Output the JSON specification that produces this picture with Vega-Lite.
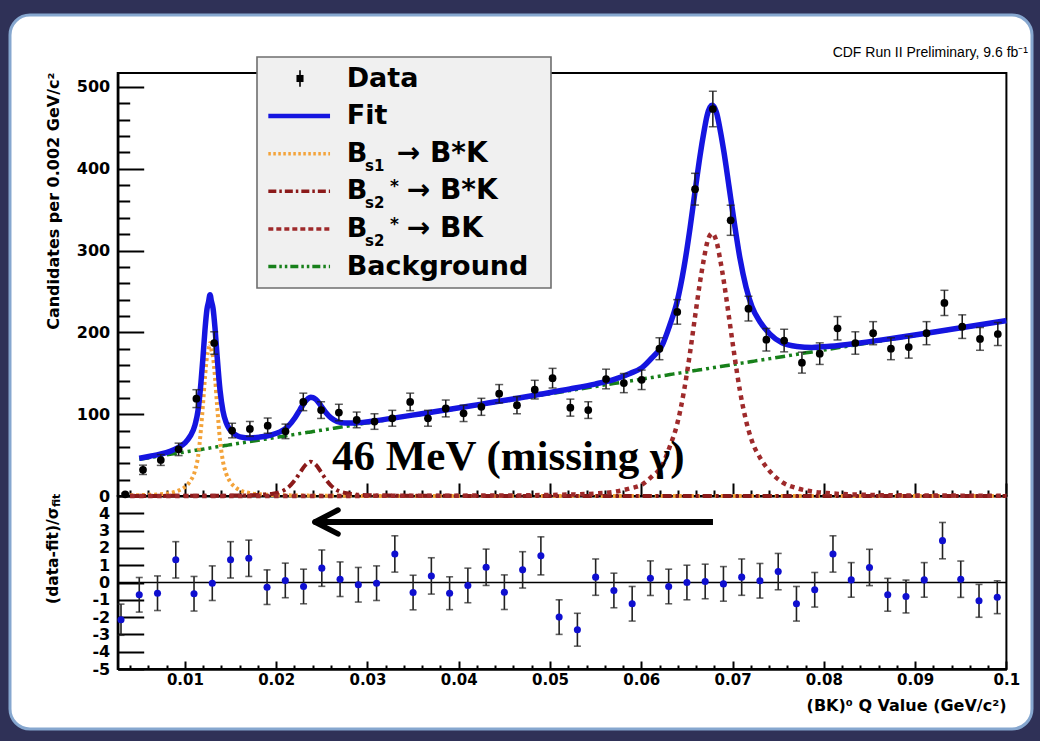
{
  "$schema": "https://vega.github.io/schema/vega-lite/v6.json",
  "width": 1022,
  "height": 714,
  "autosize": {"type": "none"},
  "padding": {"left": 10, "top": 15, "right": 8, "bottom": 12},
  "background": "#2f3157",
  "config": {
    "view": {"fill": "#ffffff", "stroke": "#86a7cf", "strokeWidth": 3, "cornerRadius": 20},
    "axis": {
      "labelFont": "DejaVu Sans", "labelFontWeight": "bold", "labelFontSize": 16, "labelColor": "#000",
      "tickColor": "#000", "domainColor": "#000", "grid": false,
      "labelFlush": false, "labelOverlap": false, "labelBound": false,
      "titleFont": "DejaVu Sans", "titleFontWeight": "bold", "titleColor": "#000"
    }
  },
  "data": {"values": [{}]},
  "datasets": {
    "top": [
      {"x": 0.00346, "n": 2, "e": 1.4},
      {"x": 0.00541, "n": 32, "e": 5.7},
      {"x": 0.00736, "n": 44, "e": 6.6},
      {"x": 0.00931, "n": 57, "e": 7.6},
      {"x": 0.01126, "n": 119, "e": 10.9},
      {"x": 0.01321, "n": 187, "e": 13.7},
      {"x": 0.01517, "n": 80, "e": 8.9},
      {"x": 0.01712, "n": 82, "e": 9.1},
      {"x": 0.01907, "n": 86, "e": 9.3},
      {"x": 0.02102, "n": 79, "e": 8.9},
      {"x": 0.02297, "n": 115, "e": 10.7},
      {"x": 0.02492, "n": 105, "e": 10.2},
      {"x": 0.02687, "n": 102, "e": 10.1},
      {"x": 0.02882, "n": 93, "e": 9.6},
      {"x": 0.03077, "n": 91, "e": 9.5},
      {"x": 0.03272, "n": 95, "e": 9.7},
      {"x": 0.03468, "n": 115, "e": 10.7},
      {"x": 0.03663, "n": 95, "e": 9.7},
      {"x": 0.03858, "n": 107, "e": 10.3},
      {"x": 0.04053, "n": 101, "e": 10.0},
      {"x": 0.04248, "n": 109, "e": 10.4},
      {"x": 0.04443, "n": 125, "e": 11.2},
      {"x": 0.04638, "n": 111, "e": 10.5},
      {"x": 0.04833, "n": 130, "e": 11.4},
      {"x": 0.05028, "n": 144, "e": 12.0},
      {"x": 0.05223, "n": 108, "e": 10.4},
      {"x": 0.05419, "n": 105, "e": 10.2},
      {"x": 0.05614, "n": 143, "e": 12.0},
      {"x": 0.05809, "n": 138, "e": 11.7},
      {"x": 0.06004, "n": 142, "e": 11.9},
      {"x": 0.06199, "n": 180, "e": 13.4},
      {"x": 0.06394, "n": 225, "e": 15.0},
      {"x": 0.06589, "n": 375, "e": 19.4},
      {"x": 0.06784, "n": 473, "e": 21.7},
      {"x": 0.06979, "n": 337, "e": 18.4},
      {"x": 0.07174, "n": 229, "e": 15.1},
      {"x": 0.0737, "n": 191, "e": 13.8},
      {"x": 0.07565, "n": 190, "e": 13.8},
      {"x": 0.0776, "n": 163, "e": 12.8},
      {"x": 0.07955, "n": 174, "e": 13.2},
      {"x": 0.0815, "n": 205, "e": 14.3},
      {"x": 0.08345, "n": 187, "e": 13.7},
      {"x": 0.0854, "n": 199, "e": 14.1},
      {"x": 0.08735, "n": 180, "e": 13.4},
      {"x": 0.0893, "n": 182, "e": 13.5},
      {"x": 0.09125, "n": 199, "e": 14.1},
      {"x": 0.09321, "n": 236, "e": 15.4},
      {"x": 0.09516, "n": 207, "e": 14.4},
      {"x": 0.09711, "n": 192, "e": 13.9},
      {"x": 0.09906, "n": 198, "e": 14.1}
    ],
    "pull": [
      {"x": 0.003, "r": -2.15, "e": 0.9},
      {"x": 0.005, "r": -0.71, "e": 1.0},
      {"x": 0.007, "r": -0.62, "e": 1.0},
      {"x": 0.009, "r": 1.31, "e": 1.05},
      {"x": 0.011, "r": -0.65, "e": 1.0},
      {"x": 0.013, "r": -0.04, "e": 1.0},
      {"x": 0.015, "r": 1.31, "e": 1.05},
      {"x": 0.017, "r": 1.4, "e": 1.05},
      {"x": 0.019, "r": -0.27, "e": 1.0},
      {"x": 0.021, "r": 0.12, "e": 1.0},
      {"x": 0.023, "r": -0.23, "e": 1.0},
      {"x": 0.025, "r": 0.83, "e": 1.05},
      {"x": 0.027, "r": 0.19, "e": 1.0},
      {"x": 0.029, "r": -0.13, "e": 1.0},
      {"x": 0.031, "r": -0.04, "e": 1.0},
      {"x": 0.033, "r": 1.65, "e": 1.05},
      {"x": 0.035, "r": -0.58, "e": 1.0},
      {"x": 0.037, "r": 0.38, "e": 1.05},
      {"x": 0.039, "r": -0.62, "e": 0.95},
      {"x": 0.041, "r": -0.17, "e": 1.0},
      {"x": 0.043, "r": 0.88, "e": 1.05},
      {"x": 0.045, "r": -0.56, "e": 1.0},
      {"x": 0.047, "r": 0.73, "e": 1.05},
      {"x": 0.049, "r": 1.54, "e": 1.1},
      {"x": 0.051, "r": -2.0, "e": 1.0},
      {"x": 0.053, "r": -2.73, "e": 0.95},
      {"x": 0.055, "r": 0.31, "e": 1.05},
      {"x": 0.057, "r": -0.46, "e": 1.0},
      {"x": 0.059, "r": -1.23, "e": 1.0},
      {"x": 0.061, "r": 0.25, "e": 1.0},
      {"x": 0.063, "r": -0.23, "e": 1.0},
      {"x": 0.065, "r": 0.0, "e": 1.0},
      {"x": 0.067, "r": 0.06, "e": 1.0},
      {"x": 0.069, "r": -0.08, "e": 1.0},
      {"x": 0.071, "r": 0.31, "e": 1.05},
      {"x": 0.073, "r": 0.1, "e": 1.0},
      {"x": 0.075, "r": 0.63, "e": 1.05},
      {"x": 0.077, "r": -1.23, "e": 1.0},
      {"x": 0.079, "r": -0.42, "e": 1.0},
      {"x": 0.081, "r": 1.65, "e": 1.05},
      {"x": 0.083, "r": 0.15, "e": 1.0},
      {"x": 0.085, "r": 0.87, "e": 1.05},
      {"x": 0.087, "r": -0.71, "e": 0.95},
      {"x": 0.089, "r": -0.81, "e": 0.95},
      {"x": 0.091, "r": 0.15, "e": 1.0},
      {"x": 0.093, "r": 2.42, "e": 1.05},
      {"x": 0.095, "r": 0.19, "e": 1.05},
      {"x": 0.097, "r": -1.06, "e": 0.95},
      {"x": 0.099, "r": -0.85, "e": 0.95}
    ],
    "curves": [
      {"x": 0.004, "fit": null, "bs1": 0.8, "bsk": 0.1, "bk": 0.0, "bg": null},
      {"x": 0.005, "fit": 46.0, "bs1": 1.0, "bsk": 0.1, "bk": 0.0, "bg": 44.9},
      {"x": 0.00618, "fit": 48.6, "bs1": 1.5, "bsk": 0.1, "bk": 0.0, "bg": 47.0},
      {"x": 0.00727, "fit": 51.1, "bs1": 2.0, "bsk": 0.1, "bk": 0.0, "bg": 49.0},
      {"x": 0.00837, "fit": 54.6, "bs1": 3.5, "bsk": 0.2, "bk": 0.0, "bg": 50.9},
      {"x": 0.00924, "fit": 59.0, "bs1": 6.3, "bsk": 0.2, "bk": 0.0, "bg": 52.5},
      {"x": 0.01001, "fit": 65.0, "bs1": 11.0, "bsk": 0.2, "bk": 0.1, "bg": 53.8},
      {"x": 0.01056, "fit": 72.8, "bs1": 17.7, "bsk": 0.2, "bk": 0.1, "bg": 54.8},
      {"x": 0.01111, "fit": 87.0, "bs1": 31.0, "bsk": 0.2, "bk": 0.1, "bg": 55.8},
      {"x": 0.01144, "fit": 104.6, "bs1": 48.0, "bsk": 0.2, "bk": 0.1, "bg": 56.4},
      {"x": 0.01176, "fit": 138.7, "bs1": 81.5, "bsk": 0.2, "bk": 0.1, "bg": 56.9},
      {"x": 0.01198, "fit": 169.3, "bs1": 111.7, "bsk": 0.2, "bk": 0.1, "bg": 57.3},
      {"x": 0.0122, "fit": 203.0, "bs1": 145.0, "bsk": 0.2, "bk": 0.1, "bg": 57.7},
      {"x": 0.01242, "fit": 228.4, "bs1": 170.0, "bsk": 0.2, "bk": 0.1, "bg": 58.1},
      {"x": 0.01259, "fit": 237.2, "bs1": 178.5, "bsk": 0.2, "bk": 0.1, "bg": 58.4},
      {"x": 0.01275, "fit": 246.0, "bs1": 187.0, "bsk": 0.2, "bk": 0.1, "bg": 58.7},
      {"x": 0.01291, "fit": 237.8, "bs1": 178.5, "bsk": 0.2, "bk": 0.1, "bg": 59.0},
      {"x": 0.01308, "fit": 229.6, "bs1": 170.0, "bsk": 0.2, "bk": 0.1, "bg": 59.3},
      {"x": 0.0133, "fit": 205.1, "bs1": 145.0, "bsk": 0.3, "bk": 0.1, "bg": 59.7},
      {"x": 0.01352, "fit": 172.2, "bs1": 111.7, "bsk": 0.3, "bk": 0.1, "bg": 60.1},
      {"x": 0.01385, "fit": 129.1, "bs1": 68.0, "bsk": 0.3, "bk": 0.1, "bg": 60.7},
      {"x": 0.01417, "fit": 104.0, "bs1": 42.3, "bsk": 0.4, "bk": 0.1, "bg": 61.2},
      {"x": 0.0145, "fit": 90.3, "bs1": 28.0, "bsk": 0.4, "bk": 0.1, "bg": 61.8},
      {"x": 0.01494, "fit": 80.9, "bs1": 17.7, "bsk": 0.5, "bk": 0.1, "bg": 62.6},
      {"x": 0.01549, "fit": 75.3, "bs1": 11.0, "bsk": 0.6, "bk": 0.1, "bg": 63.6},
      {"x": 0.01604, "fit": 72.3, "bs1": 7.0, "bsk": 0.6, "bk": 0.1, "bg": 64.6},
      {"x": 0.01713, "fit": 70.9, "bs1": 3.5, "bsk": 0.8, "bk": 0.1, "bg": 66.5},
      {"x": 0.01823, "fit": 72.1, "bs1": 2.0, "bsk": 1.5, "bk": 0.1, "bg": 68.5},
      {"x": 0.01932, "fit": 74.3, "bs1": 1.5, "bsk": 2.3, "bk": 0.1, "bg": 70.4},
      {"x": 0.02042, "fit": 78.3, "bs1": 1.0, "bsk": 4.8, "bk": 0.1, "bg": 72.4},
      {"x": 0.0213, "fit": 85.1, "bs1": 0.8, "bsk": 10.3, "bk": 0.1, "bg": 73.9},
      {"x": 0.02206, "fit": 95.6, "bs1": 0.7, "bsk": 19.5, "bk": 0.1, "bg": 75.3},
      {"x": 0.02261, "fit": 105.6, "bs1": 0.6, "bsk": 28.6, "bk": 0.1, "bg": 76.3},
      {"x": 0.02316, "fit": 115.1, "bs1": 0.5, "bsk": 37.3, "bk": 0.1, "bg": 77.2},
      {"x": 0.02349, "fit": 119.0, "bs1": 0.5, "bsk": 40.6, "bk": 0.1, "bg": 77.8},
      {"x": 0.02378, "fit": 120.8, "bs1": 0.4, "bsk": 42.0, "bk": 0.1, "bg": 78.3},
      {"x": 0.02403, "fit": 120.3, "bs1": 0.4, "bsk": 41.0, "bk": 0.1, "bg": 78.8},
      {"x": 0.02436, "fit": 117.9, "bs1": 0.4, "bsk": 38.0, "bk": 0.1, "bg": 79.4},
      {"x": 0.02491, "fit": 110.2, "bs1": 0.4, "bsk": 29.4, "bk": 0.1, "bg": 80.3},
      {"x": 0.02546, "fit": 101.8, "bs1": 0.3, "bsk": 20.1, "bk": 0.1, "bg": 81.3},
      {"x": 0.02601, "fit": 95.4, "bs1": 0.3, "bsk": 12.7, "bk": 0.1, "bg": 82.3},
      {"x": 0.02666, "fit": 91.1, "bs1": 0.3, "bsk": 7.2, "bk": 0.1, "bg": 83.5},
      {"x": 0.02754, "fit": 89.2, "bs1": 0.3, "bsk": 3.8, "bk": 0.1, "bg": 85.0},
      {"x": 0.02863, "fit": 89.3, "bs1": 0.2, "bsk": 2.0, "bk": 0.1, "bg": 87.0},
      {"x": 0.03028, "fit": 91.1, "bs1": 0.1, "bsk": 0.9, "bk": 0.2, "bg": 89.9},
      {"x": 0.03247, "fit": 94.6, "bs1": 0.1, "bsk": 0.5, "bk": 0.2, "bg": 93.8},
      {"x": 0.03576, "fit": 100.3, "bs1": 0.1, "bsk": 0.2, "bk": 0.3, "bg": 99.7},
      {"x": 0.03904, "fit": 106.1, "bs1": 0.0, "bsk": 0.2, "bk": 0.4, "bg": 105.5},
      {"x": 0.04233, "fit": 112.0, "bs1": 0.0, "bsk": 0.1, "bk": 0.5, "bg": 111.4},
      {"x": 0.04562, "fit": 117.9, "bs1": 0.0, "bsk": 0.1, "bk": 0.6, "bg": 117.2},
      {"x": 0.0489, "fit": 124.3, "bs1": 0.0, "bsk": 0.1, "bk": 1.1, "bg": 123.1},
      {"x": 0.05219, "fit": 130.8, "bs1": 0.0, "bsk": 0.1, "bk": 1.8, "bg": 128.9},
      {"x": 0.05493, "fit": 136.8, "bs1": 0.0, "bsk": 0.0, "bk": 3.0, "bg": 133.8},
      {"x": 0.05712, "fit": 142.9, "bs1": 0.0, "bsk": 0.0, "bk": 5.2, "bg": 137.7},
      {"x": 0.05876, "fit": 149.8, "bs1": 0.0, "bsk": 0.0, "bk": 9.2, "bg": 140.6},
      {"x": 0.06008, "fit": 156.9, "bs1": 0.0, "bsk": 0.0, "bk": 14.0, "bg": 142.9},
      {"x": 0.06117, "fit": 168.9, "bs1": 0.0, "bsk": 0.0, "bk": 24.0, "bg": 144.9},
      {"x": 0.06227, "fit": 183.8, "bs1": 0.0, "bsk": 0.0, "bk": 37.0, "bg": 146.8},
      {"x": 0.06314, "fit": 209.4, "bs1": 0.0, "bsk": 0.0, "bk": 61.0, "bg": 148.4},
      {"x": 0.06391, "fit": 236.8, "bs1": 0.0, "bsk": 0.0, "bk": 87.0, "bg": 149.8},
      {"x": 0.06468, "fit": 279.5, "bs1": 0.0, "bsk": 0.0, "bk": 128.4, "bg": 151.1},
      {"x": 0.06534, "fit": 327.5, "bs1": 0.0, "bsk": 0.0, "bk": 175.2, "bg": 152.3},
      {"x": 0.06588, "fit": 371.7, "bs1": 0.0, "bsk": 0.0, "bk": 218.4, "bg": 153.3},
      {"x": 0.06643, "fit": 415.5, "bs1": 0.0, "bsk": 0.0, "bk": 261.2, "bg": 154.3},
      {"x": 0.06687, "fit": 445.4, "bs1": 0.0, "bsk": 0.0, "bk": 290.4, "bg": 155.0},
      {"x": 0.0672, "fit": 464.6, "bs1": 0.0, "bsk": 0.0, "bk": 309.0, "bg": 155.6},
      {"x": 0.06753, "fit": 475.2, "bs1": 0.0, "bsk": 0.0, "bk": 319.0, "bg": 156.2},
      {"x": 0.06775, "fit": 477.6, "bs1": 0.0, "bsk": 0.0, "bk": 321.0, "bg": 156.6},
      {"x": 0.06796, "fit": 476.0, "bs1": 0.0, "bsk": 0.0, "bk": 319.0, "bg": 157.0},
      {"x": 0.06829, "fit": 466.6, "bs1": 0.0, "bsk": 0.0, "bk": 309.0, "bg": 157.6},
      {"x": 0.06862, "fit": 448.6, "bs1": 0.0, "bsk": 0.0, "bk": 290.4, "bg": 158.2},
      {"x": 0.06906, "fit": 420.1, "bs1": 0.0, "bsk": 0.0, "bk": 261.2, "bg": 158.9},
      {"x": 0.06961, "fit": 378.3, "bs1": 0.0, "bsk": 0.0, "bk": 218.4, "bg": 159.9},
      {"x": 0.07016, "fit": 336.1, "bs1": 0.0, "bsk": 0.0, "bk": 175.2, "bg": 160.9},
      {"x": 0.07081, "fit": 290.5, "bs1": 0.0, "bsk": 0.0, "bk": 128.4, "bg": 162.1},
      {"x": 0.07147, "fit": 255.6, "bs1": 0.0, "bsk": 0.0, "bk": 92.4, "bg": 163.2},
      {"x": 0.07213, "fit": 231.4, "bs1": 0.0, "bsk": 0.0, "bk": 67.0, "bg": 164.4},
      {"x": 0.073, "fit": 213.0, "bs1": 0.0, "bsk": 0.0, "bk": 47.0, "bg": 166.0},
      {"x": 0.0741, "fit": 197.9, "bs1": 0.0, "bsk": 0.0, "bk": 30.0, "bg": 167.9},
      {"x": 0.07541, "fit": 187.2, "bs1": 0.0, "bsk": 0.0, "bk": 17.0, "bg": 170.2},
      {"x": 0.07706, "fit": 182.7, "bs1": 0.0, "bsk": 0.0, "bk": 9.5, "bg": 173.2},
      {"x": 0.0787, "fit": 181.6, "bs1": 0.0, "bsk": 0.0, "bk": 5.5, "bg": 176.1},
      {"x": 0.08067, "fit": 182.9, "bs1": 0.0, "bsk": 0.0, "bk": 3.3, "bg": 179.6},
      {"x": 0.08396, "fit": 187.1, "bs1": 0.0, "bsk": 0.0, "bk": 1.6, "bg": 185.5},
      {"x": 0.08834, "fit": 194.1, "bs1": 0.0, "bsk": 0.0, "bk": 0.8, "bg": 193.3},
      {"x": 0.09382, "fit": 203.5, "bs1": 0.0, "bsk": 0.0, "bk": 0.5, "bg": 203.0},
      {"x": 0.1, "fit": 214.3, "bs1": 0.0, "bsk": 0.0, "bk": 0.3, "bg": 214.0}
    ],
    "legend": [
      {"slot": 6, "entry": "Data", "label": "Data", "sub": "", "sup": "", "tail": ""},
      {"slot": 5, "entry": "Fit", "label": "Fit", "sub": "", "sup": "", "tail": ""},
      {"slot": 4, "entry": "Bs1 B*K", "label": "B", "sub": "s1", "sup": "", "tail": "→ B*K"},
      {"slot": 3, "entry": "Bs2 B*K", "label": "B", "sub": "s2", "sup": "*", "tail": "→ B*K"},
      {"slot": 2, "entry": "Bs2 BK", "label": "B", "sub": "s2", "sup": "*", "tail": "→ BK"},
      {"slot": 1, "entry": "Background", "label": "Background", "sub": "", "sup": "", "tail": ""}
    ]
  },
  "resolve": {"scale": {"y": "independent"}, "axis": {"x": "independent", "y": "independent"}},
  "layer": [
    {
      "mark": {"type": "rect", "filled": false, "color": "#000", "strokeWidth": 2},
      "encoding": {
        "x": {"datum": 0.002638, "type": "quantitative",
              "scale": {"domain": [0.002638, 0.1], "range": [107.7, 996.4], "nice": false, "zero": false},
              "axis": {"orient": "bottom", "offset": -233, "values": [0.01, 0.02, 0.03, 0.04, 0.05, 0.06, 0.07, 0.08, 0.09, 0.1],
                       "tickSize": -13, "tickWidth": 2, "labels": false, "domain": true, "domainWidth": 2, "title": null}},
        "x2": {"datum": 0.1},
        "y": {"datum": 0, "type": "quantitative",
              "scale": {"domain": [0, 517], "range": [481, 58], "nice": false, "zero": false},
              "axis": {"orient": "left", "offset": -107.7, "values": [0, 100, 200, 300, 400, 500],
                       "tickSize": -26, "tickWidth": 2, "domainWidth": 2.5, "labelPadding": 34,
                       "labelExpr": "'' + datum.value",
                       "title": "Candidates per 0.002 GeV/c²", "titleFontSize": 16, "titleAngle": 270,
                       "titleAlign": "right", "titleBaseline": "middle", "titleX": -63.7, "titleY": 57}},
        "y2": {"datum": 517}
      }
    },
    {
      "mark": {"type": "rect", "filled": false, "color": "#000", "strokeWidth": 2},
      "encoding": {
        "x": {"datum": 0.002638, "type": "quantitative",
              "scale": {"domain": [0.002638, 0.1], "range": [107.7, 996.4], "nice": false, "zero": false},
              "axis": {"orient": "bottom", "offset": -60, "values": [0.01, 0.02, 0.03, 0.04, 0.05, 0.06, 0.07, 0.08, 0.09, 0.1],
                       "tickSize": -8, "tickWidth": 2, "labels": true, "labelPadding": 11, "labelFontSize": 15,
                       "labelExpr": "'' + datum.value", "domain": true, "domainWidth": 2.5,
                       "title": "(BK)⁰ Q Value (GeV/c²)", "titleFontSize": 16, "titleAlign": "right",
                       "titleBaseline": "alphabetic", "titleX": 996, "titleY": 41}},
        "x2": {"datum": 0.1},
        "y": {"datum": -5, "type": "quantitative",
              "scale": {"domain": [-5, 5], "range": [654, 481], "nice": false, "zero": false},
              "axis": {"orient": "left", "offset": -107.7, "values": [-5, -4, -3, -2, -1, 0, 1, 2, 3, 4],
                       "tickSize": -26, "tickWidth": 2, "domainWidth": 2.5, "labelPadding": 34,
                       "labelExpr": "'' + datum.value", "title": null}},
        "y2": {"datum": 5}
      }
    },
    {
      "mark": {"type": "rule", "color": "#000", "strokeWidth": 1.6},
      "encoding": {
        "x": {"datum": 0.002638, "type": "quantitative",
              "scale": {"domain": [0.002638, 0.1], "range": [107.7, 996.4], "nice": false, "zero": false},
              "axis": {"orient": "bottom", "offset": -60,
                       "values": [0.004, 0.006, 0.008, 0.012, 0.014, 0.016, 0.018, 0.022, 0.024, 0.026, 0.028, 0.032, 0.034, 0.036, 0.038, 0.042, 0.044, 0.046, 0.048, 0.052, 0.054, 0.056, 0.058, 0.062, 0.064, 0.066, 0.068, 0.072, 0.074, 0.076, 0.078, 0.082, 0.084, 0.086, 0.088, 0.092, 0.094, 0.096, 0.098],
                       "tickSize": -4, "tickWidth": 2, "labels": false, "domain": false, "title": null}},
        "x2": {"datum": 0.1},
        "y": {"datum": 0, "type": "quantitative",
              "scale": {"domain": [-5, 5], "range": [654, 481], "nice": false, "zero": false}, "axis": null}
      }
    },
    {
      "data": {"name": "curves"},
      "mark": {"type": "line", "color": "#17801a", "strokeWidth": 3.5, "strokeDash": [10, 4, 3, 4, 3, 4], "interpolate": "monotone"},
      "encoding": {
        "x": {"field": "x", "type": "quantitative",
              "scale": {"domain": [0.002638, 0.1], "range": [107.7, 996.4], "nice": false, "zero": false},
              "axis": {"orient": "bottom", "offset": -233,
                       "values": [0.004, 0.006, 0.008, 0.012, 0.014, 0.016, 0.018, 0.022, 0.024, 0.026, 0.028, 0.032, 0.034, 0.036, 0.038, 0.042, 0.044, 0.046, 0.048, 0.052, 0.054, 0.056, 0.058, 0.062, 0.064, 0.066, 0.068, 0.072, 0.074, 0.076, 0.078, 0.082, 0.084, 0.086, 0.088, 0.092, 0.094, 0.096, 0.098],
                       "tickSize": -6, "tickWidth": 2, "labels": false, "domain": false, "title": null}},
        "y": {"field": "bg", "type": "quantitative",
              "scale": {"domain": [0, 517], "range": [481, 58], "nice": false, "zero": false},
              "axis": {"orient": "left", "offset": -107.7,
                       "values": [20, 40, 60, 80, 120, 140, 160, 180, 220, 240, 260, 280, 320, 340, 360, 380, 420, 440, 460, 480],
                       "tickSize": -12, "tickWidth": 2, "labels": false, "domain": false, "title": null}}
      }
    },
    {
      "data": {"name": "curves"},
      "mark": {"type": "line", "color": "#f3a33a", "strokeWidth": 4, "strokeDash": [3, 3], "interpolate": "monotone"},
      "encoding": {
        "x": {"field": "x", "type": "quantitative",
              "scale": {"domain": [0.002638, 0.1], "range": [107.7, 996.4], "nice": false, "zero": false}, "axis": null},
        "y": {"field": "bs1", "type": "quantitative",
              "scale": {"domain": [0, 517], "range": [481, 58], "nice": false, "zero": false}, "axis": null}
      }
    },
    {
      "data": {"name": "curves"},
      "mark": {"type": "line", "color": "#8b1a1a", "strokeWidth": 4, "strokeDash": [9, 4, 3, 4], "interpolate": "monotone"},
      "encoding": {
        "x": {"field": "x", "type": "quantitative",
              "scale": {"domain": [0.002638, 0.1], "range": [107.7, 996.4], "nice": false, "zero": false}, "axis": null},
        "y": {"field": "bsk", "type": "quantitative",
              "scale": {"domain": [0, 517], "range": [481, 58], "nice": false, "zero": false}, "axis": null}
      }
    },
    {
      "data": {"name": "curves"},
      "mark": {"type": "line", "color": "#9e2a2b", "strokeWidth": 4.5, "strokeDash": [4.5, 4.5], "interpolate": "monotone"},
      "encoding": {
        "x": {"field": "x", "type": "quantitative",
              "scale": {"domain": [0.002638, 0.1], "range": [107.7, 996.4], "nice": false, "zero": false}, "axis": null},
        "y": {"field": "bk", "type": "quantitative",
              "scale": {"domain": [0, 517], "range": [481, 58], "nice": false, "zero": false}, "axis": null}
      }
    },
    {
      "data": {"name": "curves"},
      "mark": {"type": "line", "color": "#1515e0", "strokeWidth": 5.5, "interpolate": "monotone"},
      "encoding": {
        "x": {"field": "x", "type": "quantitative",
              "scale": {"domain": [0.002638, 0.1], "range": [107.7, 996.4], "nice": false, "zero": false}, "axis": null},
        "y": {"field": "fit", "type": "quantitative",
              "scale": {"domain": [0, 517], "range": [481, 58], "nice": false, "zero": false}, "axis": null}
      }
    },
    {
      "data": {"name": "top"},
      "mark": {"type": "errorbar", "ticks": {"size": 8}, "thickness": 1.5, "color": "#1a1a1a"},
      "encoding": {
        "x": {"field": "x", "type": "quantitative",
              "scale": {"domain": [0.002638, 0.1], "range": [107.7, 996.4], "nice": false, "zero": false}, "axis": null},
        "y": {"field": "n", "type": "quantitative",
              "scale": {"domain": [0, 517], "range": [481, 58], "nice": false, "zero": false}, "axis": null},
        "yError": {"field": "e"}
      }
    },
    {
      "data": {"name": "top"},
      "mark": {"type": "point", "filled": true, "shape": "circle", "size": 60, "color": "#000", "opacity": 1},
      "encoding": {
        "x": {"field": "x", "type": "quantitative",
              "scale": {"domain": [0.002638, 0.1], "range": [107.7, 996.4], "nice": false, "zero": false}, "axis": null},
        "y": {"field": "n", "type": "quantitative",
              "scale": {"domain": [0, 517], "range": [481, 58], "nice": false, "zero": false}, "axis": null}
      }
    },
    {
      "data": {"name": "pull"},
      "mark": {"type": "errorbar", "ticks": {"size": 7}, "thickness": 1.6, "color": "#222222"},
      "encoding": {
        "x": {"field": "x", "type": "quantitative",
              "scale": {"domain": [0.002638, 0.1], "range": [107.7, 996.4], "nice": false, "zero": false}, "axis": null},
        "y": {"field": "r", "type": "quantitative",
              "scale": {"domain": [-5, 5], "range": [654, 481], "nice": false, "zero": false}, "axis": null},
        "yError": {"field": "e"}
      }
    },
    {
      "data": {"name": "pull"},
      "mark": {"type": "point", "filled": true, "shape": "circle", "size": 50, "color": "#0f0fd0", "opacity": 1},
      "encoding": {
        "x": {"field": "x", "type": "quantitative",
              "scale": {"domain": [0.002638, 0.1], "range": [107.7, 996.4], "nice": false, "zero": false}, "axis": null},
        "y": {"field": "r", "type": "quantitative",
              "scale": {"domain": [-5, 5], "range": [654, 481], "nice": false, "zero": false}, "axis": null}
      }
    },
    {
      "mark": {"type": "rect", "fill": "#f0f0f0", "stroke": "#6e6e6e", "strokeWidth": 1.6},
      "encoding": {
        "x": {"datum": 0.017899, "type": "quantitative",
              "scale": {"domain": [0.002638, 0.1], "range": [107.7, 996.4], "nice": false, "zero": false}, "axis": null},
        "x2": {"datum": 0.050108},
        "y": {"datum": 254.2, "type": "quantitative",
              "scale": {"domain": [0, 517], "range": [481, 58], "nice": false, "zero": false}, "axis": null},
        "y2": {"datum": 536.5}
      }
    },
    {
      "mark": {"type": "rule", "color": "#000", "strokeWidth": 1.6},
      "encoding": {
        "x": {"datum": 0.02261, "type": "quantitative",
              "scale": {"domain": [0.002638, 0.1], "range": [107.7, 996.4], "nice": false, "zero": false}, "axis": null},
        "y": {"datum": 5.78, "type": "quantitative",
              "scale": {"domain": [1, 6], "range": [251.5, 63.5], "nice": false, "zero": false}, "axis": null},
        "y2": {"datum": 6.22}
      }
    },
    {
      "data": {"name": "legend"},
      "transform": [{"filter": "datum.slot == 6"}],
      "mark": {"type": "point", "filled": true, "shape": "square", "size": 50, "color": "#000", "opacity": 1},
      "encoding": {
        "x": {"datum": 0.02261, "type": "quantitative",
              "scale": {"domain": [0.002638, 0.1], "range": [107.7, 996.4], "nice": false, "zero": false}, "axis": null},
        "y": {"field": "slot", "type": "quantitative",
              "scale": {"domain": [1, 6], "range": [251.5, 63.5], "nice": false, "zero": false}, "axis": null}
      }
    },
    {
      "data": {"name": "legend"},
      "transform": [{"filter": "datum.slot == 5"}],
      "mark": {"type": "rule", "color": "#1515e0", "strokeWidth": 4.5},
      "encoding": {
        "x": {"datum": 0.01914, "type": "quantitative",
              "scale": {"domain": [0.002638, 0.1], "range": [107.7, 996.4], "nice": false, "zero": false}, "axis": null},
        "x2": {"datum": 0.0259},
        "y": {"field": "slot", "type": "quantitative",
              "scale": {"domain": [1, 6], "range": [251.5, 63.5], "nice": false, "zero": false}, "axis": null}
      }
    },
    {
      "data": {"name": "legend"},
      "transform": [{"filter": "datum.slot <= 4"}],
      "mark": {"type": "rule", "strokeWidth": 3.5},
      "encoding": {
        "x": {"datum": 0.01914, "type": "quantitative",
              "scale": {"domain": [0.002638, 0.1], "range": [107.7, 996.4], "nice": false, "zero": false}, "axis": null},
        "x2": {"datum": 0.0259},
        "y": {"field": "slot", "type": "quantitative",
              "scale": {"domain": [1, 6], "range": [251.5, 63.5], "nice": false, "zero": false}, "axis": null},
        "color": {"field": "entry", "type": "nominal", "legend": null,
                  "scale": {"domain": ["Bs1 B*K", "Bs2 B*K", "Bs2 BK", "Background"], "range": ["#f3a33a", "#8b1a1a", "#9e2a2b", "#17801a"]}},
        "strokeDash": {"field": "entry", "type": "nominal", "legend": null,
                       "scale": {"domain": ["Bs1 B*K", "Bs2 B*K", "Bs2 BK", "Background"], "range": [[2.5, 2.5], [8, 3, 2.5, 3], [5, 3], [8, 3, 2.5, 3, 2.5, 3]]}}
      }
    },
    {
      "data": {"name": "legend"},
      "mark": {"type": "text", "align": "left", "baseline": "middle", "font": "DejaVu Sans", "fontWeight": "bold", "fontSize": 27, "color": "#000"},
      "encoding": {
        "x": {"datum": 0.027725, "type": "quantitative",
              "scale": {"domain": [0.002638, 0.1], "range": [107.7, 996.4], "nice": false, "zero": false}, "axis": null},
        "y": {"field": "slot", "type": "quantitative",
              "scale": {"domain": [1, 6], "range": [251.5, 63.5], "nice": false, "zero": false}, "axis": null},
        "text": {"field": "label"}
      }
    },
    {
      "data": {"name": "legend"},
      "mark": {"type": "text", "align": "left", "baseline": "middle", "dy": 12, "font": "DejaVu Sans", "fontWeight": "bold", "fontSize": 15, "color": "#000"},
      "encoding": {
        "x": {"datum": 0.029731, "type": "quantitative",
              "scale": {"domain": [0.002638, 0.1], "range": [107.7, 996.4], "nice": false, "zero": false}, "axis": null},
        "y": {"field": "slot", "type": "quantitative",
              "scale": {"domain": [1, 6], "range": [251.5, 63.5], "nice": false, "zero": false}, "axis": null},
        "text": {"field": "sub"}
      }
    },
    {
      "data": {"name": "legend"},
      "mark": {"type": "text", "align": "left", "baseline": "middle", "dy": -4, "font": "DejaVu Sans", "fontWeight": "bold", "fontSize": 17, "color": "#000"},
      "encoding": {
        "x": {"datum": 0.032469, "type": "quantitative",
              "scale": {"domain": [0.002638, 0.1], "range": [107.7, 996.4], "nice": false, "zero": false}, "axis": null},
        "y": {"field": "slot", "type": "quantitative",
              "scale": {"domain": [1, 6], "range": [251.5, 63.5], "nice": false, "zero": false}, "axis": null},
        "text": {"field": "sup"}
      }
    },
    {
      "data": {"name": "legend"},
      "transform": [{"filter": "datum.slot == 4"}],
      "mark": {"type": "text", "align": "left", "baseline": "middle", "font": "DejaVu Sans", "fontWeight": "bold", "fontSize": 28, "color": "#000"},
      "encoding": {
        "x": {"datum": 0.033203, "type": "quantitative",
              "scale": {"domain": [0.002638, 0.1], "range": [107.7, 996.4], "nice": false, "zero": false}, "axis": null},
        "y": {"field": "slot", "type": "quantitative",
              "scale": {"domain": [1, 6], "range": [251.5, 63.5], "nice": false, "zero": false}, "axis": null},
        "text": {"field": "tail"}
      }
    },
    {
      "data": {"name": "legend"},
      "transform": [{"filter": "datum.slot == 2 || datum.slot == 3"}],
      "mark": {"type": "text", "align": "left", "baseline": "middle", "font": "DejaVu Sans", "fontWeight": "bold", "fontSize": 28, "color": "#000"},
      "encoding": {
        "x": {"datum": 0.034299, "type": "quantitative",
              "scale": {"domain": [0.002638, 0.1], "range": [107.7, 996.4], "nice": false, "zero": false}, "axis": null},
        "y": {"field": "slot", "type": "quantitative",
              "scale": {"domain": [1, 6], "range": [251.5, 63.5], "nice": false, "zero": false}, "axis": null},
        "text": {"field": "tail"}
      }
    },
    {
      "data": {"values": [{"t": "CDF Run II Preliminary, 9.6 fb⁻¹"}]},
      "mark": {"type": "text", "align": "right", "baseline": "alphabetic", "font": "Liberation Sans", "fontSize": 14, "color": "#000"},
      "encoding": {
        "x": {"datum": 0.102365, "type": "quantitative",
              "scale": {"domain": [0.002638, 0.1], "range": [107.7, 996.4], "nice": false, "zero": false}, "axis": null},
        "y": {"datum": 536.6, "type": "quantitative",
              "scale": {"domain": [0, 517], "range": [481, 58], "nice": false, "zero": false}, "axis": null},
        "text": {"field": "t"}
      }
    },
    {
      "data": {"values": [{"t": "46 MeV (missing γ)"}]},
      "mark": {"type": "text", "align": "left", "baseline": "alphabetic", "font": "Liberation Serif", "fontWeight": "bold", "fontSize": 43, "color": "#000"},
      "encoding": {
        "x": {"datum": 0.026115, "type": "quantitative",
              "scale": {"domain": [0.002638, 0.1], "range": [107.7, 996.4], "nice": false, "zero": false}, "axis": null},
        "y": {"datum": 31.8, "type": "quantitative",
              "scale": {"domain": [0, 517], "range": [481, 58], "nice": false, "zero": false}, "axis": null},
        "text": {"field": "t"}
      }
    },
    {
      "mark": {"type": "rule", "color": "#000", "strokeWidth": 6},
      "encoding": {
        "x": {"datum": 0.024253, "type": "quantitative",
              "scale": {"domain": [0.002638, 0.1], "range": [107.7, 996.4], "nice": false, "zero": false}, "axis": null},
        "x2": {"datum": 0.067854},
        "y": {"datum": 3.5, "type": "quantitative",
              "scale": {"domain": [-5, 5], "range": [654, 481], "nice": false, "zero": false}, "axis": null}
      }
    },
    {
      "mark": {"type": "rule", "color": "#000", "strokeWidth": 5.5, "strokeCap": "round"},
      "encoding": {
        "x": {"datum": 0.024253, "type": "quantitative",
              "scale": {"domain": [0.002638, 0.1], "range": [107.7, 996.4], "nice": false, "zero": false}, "axis": null},
        "x2": {"datum": 0.026773},
        "y": {"datum": 3.5, "type": "quantitative",
              "scale": {"domain": [-5, 5], "range": [654, 481], "nice": false, "zero": false}, "axis": null},
        "y2": {"datum": 4.19}
      }
    },
    {
      "mark": {"type": "rule", "color": "#000", "strokeWidth": 5.5, "strokeCap": "round"},
      "encoding": {
        "x": {"datum": 0.024253, "type": "quantitative",
              "scale": {"domain": [0.002638, 0.1], "range": [107.7, 996.4], "nice": false, "zero": false}, "axis": null},
        "x2": {"datum": 0.026773},
        "y": {"datum": 3.5, "type": "quantitative",
              "scale": {"domain": [-5, 5], "range": [654, 481], "nice": false, "zero": false}, "axis": null},
        "y2": {"datum": 2.81}
      }
    },
    {
      "data": {"values": [{"t": "(data-fit)/σ"}]},
      "mark": {"type": "text", "angle": 270, "align": "left", "baseline": "middle", "font": "DejaVu Sans", "fontWeight": "bold", "fontSize": 15.5, "color": "#000"},
      "encoding": {
        "x": {"datum": -0.00445, "type": "quantitative",
              "scale": {"domain": [0.002638, 0.1], "range": [107.7, 996.4], "nice": false, "zero": false}, "axis": null},
        "y": {"datum": -1.24, "type": "quantitative",
              "scale": {"domain": [-5, 5], "range": [654, 481], "nice": false, "zero": false}, "axis": null},
        "text": {"field": "t"}
      }
    },
    {
      "data": {"values": [{"t": "fit"}]},
      "mark": {"type": "text", "angle": 270, "align": "left", "baseline": "middle", "font": "DejaVu Sans", "fontWeight": "bold", "fontSize": 11, "color": "#000"},
      "encoding": {
        "x": {"datum": -0.00401, "type": "quantitative",
              "scale": {"domain": [0.002638, 0.1], "range": [107.7, 996.4], "nice": false, "zero": false}, "axis": null},
        "y": {"datum": 4.36, "type": "quantitative",
              "scale": {"domain": [-5, 5], "range": [654, 481], "nice": false, "zero": false}, "axis": null},
        "text": {"field": "t"}
      }
    }
  ]
}
